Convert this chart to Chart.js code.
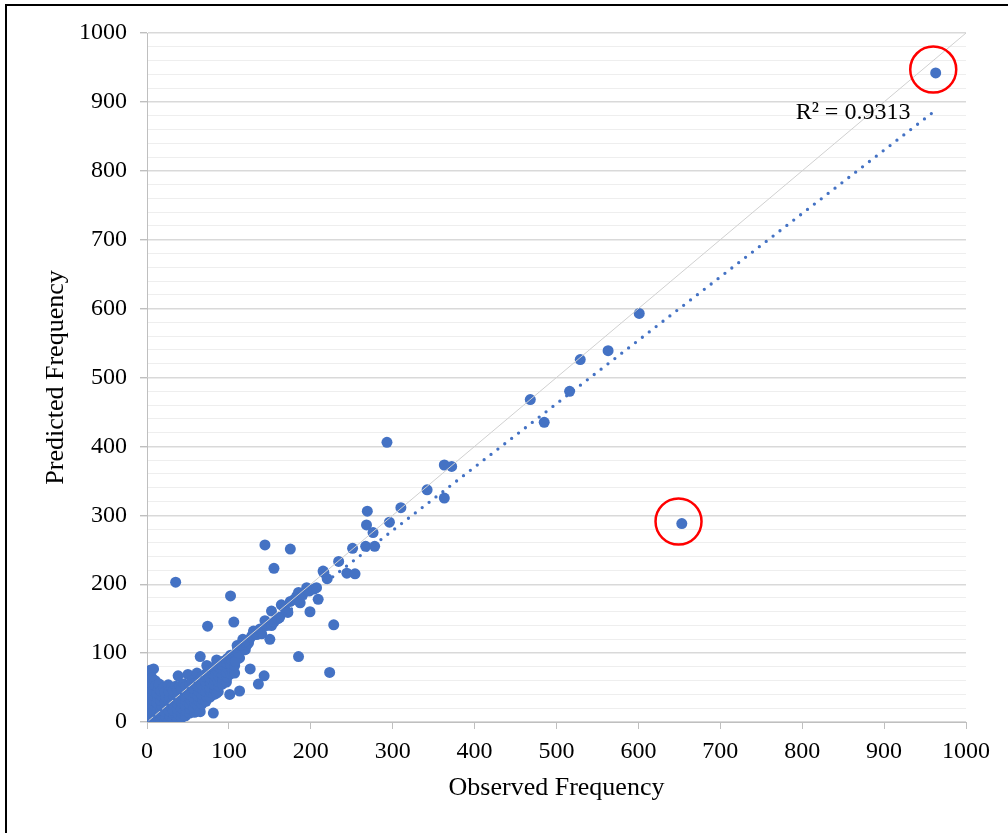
<!DOCTYPE html>
<html>
<head>
<meta charset="utf-8">
<script src="https://cdn.jsdelivr.net/npm/chart.js@4"></script>
<style>
html,body{margin:0;padding:0;background:#fff;}
#wrap{width:1008px;height:833px;position:relative;}
</style>
</head>
<body>
<div id="wrap"><canvas id="c" width="1008" height="833"></canvas></div>
<script>
// Observed vs predicted frequency pairs [observed, predicted]
const clusterPoints = [
  [0,2],[1,8],[0,15],[2,22],[1,30],[0,38],[2,45],[1,52],[0,60],[2,66],[4,75],[8,77],[1,70],
  [4,0],[5,6],[4,12],[5,18],[4,26],[5,33],[4,40],[5,48],[6,55],[3,58],[6,64],[10,60],
  [8,2],[9,9],[8,16],[9,24],[8,31],[9,38],[8,45],[10,52],
  [12,0],[13,7],[12,14],[13,21],[12,28],[13,35],[12,42],[14,48],[15,55],
  [17,3],[18,10],[17,17],[18,24],[17,31],[18,38],[17,45],[20,50],
  [22,1],[23,8],[22,15],[23,22],[22,29],[23,36],[22,43],[26,54],
  [27,2],[28,9],[27,16],[28,23],[27,30],[28,37],[27,44],[30,50],
  [32,3],[33,10],[32,17],[33,24],[32,31],[33,38],[32,45],[38,67],[35,52],
  [37,5],[38,12],[37,19],[38,26],[37,33],[38,40],[37,47],[40,52],
  [42,6],[43,13],[42,20],[43,27],[42,34],[43,41],[42,48],[45,55],
  [47,9],[48,16],[47,23],[48,30],[47,37],[48,44],[47,51],[50,69],
  [52,13],[53,19],[52,26],[53,33],[52,40],[53,47],[52,54],[55,60],
  [58,14],[57,21],[58,28],[57,35],[58,42],[57,49],[58,56],[61,71],
  [62,24],[63,31],[62,38],[63,45],[62,52],[63,59],[65,15],[65,95],
  [67,26],[68,33],[67,40],[68,47],[67,54],[68,61],[67,66],
  [72,30],[73,37],[72,44],[73,51],[72,58],[73,65],[72,70],[73,82],
  [77,36],[78,43],[77,50],[78,57],[77,64],[78,71],[77,75],
  [81,13],[82,40],[83,47],[82,54],[83,61],[82,68],[83,75],[82,80],[85,90],[85,42],
  [87,44],[88,52],[87,59],[88,66],[87,73],[88,80],[87,85],
  [92,55],[93,62],[92,69],[93,76],[92,83],[93,88],
  [97,58],[98,65],[97,72],[98,79],[97,86],[98,92],[101,40],
  [102,70],[103,77],[102,84],[103,91],[102,97],[105,72],[107,71],[109,96],[113,45],[113,93],[110,103],
  [107,82],[108,88],[112,100],[114,108],[117,120],[118,110],[120,105],[122,112],[124,115],[126,77],[125,120],
  [110,111],[115,112],[119,117],[128,125],[130,132],[134,127],[136,55],[143,67],[138,135],[140,128],[144,147],[146,140],
  [150,120],[152,140],[152,161],[155,145],[160,150],[162,152],[164,170],[168,165],[172,159],[175,175],
  [180,178],[183,183],[185,188],[187,173],[190,185],[195,195],[198,190],[199,160],[204,193],[207,195],
  [209,178],[216,217],[220,208]
];
const upperPoints = [
  [963,942],[653,288],[601,593],[529,526],[563,539],[516,480],[468,468],[485,435],[293,406],
  [363,373],[372,371],[342,337],[363,325],[310,311],[269,306],[268,286],[296,290],[276,275],
  [251,252],[267,255],[278,255],[175,251],[144,257],[234,233],[215,219],[244,216],[254,215],
  [155,223],[35,203],[102,183],[106,145],[74,139],[228,141],[185,95],[223,72]
];
const trendSlope = 0.92;
const trendIntercept = 2;
const trendRange = [0, 963];
const identityRange = [0, 1000];
const r2Text = 'R² = 0.9313';
const r2Anchor = [792, 875];
// Red highlight rings around the two flagged points
const circleMarks = [[960,947],[649,291]];
const axisTicks = [0,100,200,300,400,500,600,700,800,900,1000];

const toXY = a => a.map(([x,y]) => ({x, y}));
const allPoints = toXY(clusterPoints.concat(upperPoints));
const trendData = trendRange.map(x => ({x, y: trendSlope * x + trendIntercept}));
const identityData = identityRange.map(v => ({x: v, y: v}));

const FONT = '"Liberation Serif", "Times New Roman", serif';

const framePlugin = {
  id: 'frame',
  afterDraw(chart) {
    const c = chart.ctx;
    c.save();
    c.strokeStyle = '#000';
    c.lineWidth = 2;
    c.beginPath();
    c.moveTo(6, 840); c.lineTo(6, 5); c.lineTo(1010, 5);
    c.stroke();
    const xs = chart.scales.x, ys = chart.scales.y;
    c.fillStyle = '#000';
    c.font = '24px ' + FONT;
    c.textAlign = 'left';
    c.textBaseline = 'alphabetic';
    c.fillText(r2Text, xs.getPixelForValue(r2Anchor[0]), ys.getPixelForValue(r2Anchor[1]));
    c.restore();
  }
};

new Chart(document.getElementById('c'), {
  type: 'scatter',
  data: {
    datasets: [
      { label: 'Observed vs Predicted', data: allPoints, backgroundColor: '#4472C4', borderColor: '#4472C4',
        borderWidth: 0, pointRadius: 5.5, pointHoverRadius: 5.5, order: 4 },
      { label: 'y = x', data: identityData, showLine: true, borderColor: '#d0d0d0', borderWidth: 1,
        pointRadius: 0, order: 3 },
      { label: 'Linear trend', data: trendData, showLine: true, borderColor: '#4472C4', borderWidth: 3.3,
        borderDash: [0, 8.7], borderCapStyle: 'round', pointRadius: 0, order: 2 },
      { label: 'Flagged', data: toXY(circleMarks), backgroundColor: 'rgba(0,0,0,0)', borderColor: '#FF0000',
        borderWidth: 2.5, pointRadius: 23, pointHoverRadius: 23, order: 1 }
    ]
  },
  options: {
    responsive: false,
    animation: false,
    events: [],
    layout: { padding: { left: 0, top: 33, right: 42, bottom: 0 } },
    plugins: { legend: { display: false }, tooltip: { enabled: false } },
    scales: {
      x: {
        type: 'linear', min: 0, max: 1000,
        afterBuildTicks: s => { s.ticks = axisTicks.map(v => ({value: v})); },
        afterFit: s => { s.height = 111; },
        grid: { drawOnChartArea: false, drawTicks: true, tickLength: 7, tickColor: '#bfbfbf', tickWidth: 1 },
        border: { color: '#bfbfbf', width: 1 },
        ticks: { color: '#000', padding: 8, font: { family: FONT, size: 24 }, maxRotation: 0, autoSkip: false,
                 callback: v => String(v) },
        title: { display: true, text: 'Observed Frequency', color: '#000',
                 font: { family: FONT, size: 26 }, padding: { top: 0, bottom: 29 } }
      },
      y: {
        type: 'linear', min: 0, max: 1000,
        afterFit: s => { s.width = 147; },
        ticks: { stepSize: 20, autoSkip: false, color: '#000', padding: 13,
                 font: { family: FONT, size: 24 },
                 callback: v => (v % 100 === 0 ? String(v) : '') },
        grid: {
          color: c => (c.tick && c.tick.value % 100 === 0 ? '#d9d9d9' : '#eeeeee'),
          lineWidth: c => (c.tick && c.tick.value % 100 === 0 ? 1.4 : 1),
          tickColor: c => (c.tick && c.tick.value % 100 === 0 ? '#bfbfbf' : 'rgba(0,0,0,0)'),
          tickLength: 7, drawTicks: true
        },
        border: { color: '#bfbfbf', width: 1 },
        title: { display: true, text: 'Predicted Frequency', color: '#000',
                 font: { family: FONT, size: 26 }, padding: { top: 41, bottom: 0 } }
      }
    }
  },
  plugins: [framePlugin]
});
</script>
</body>
</html>
